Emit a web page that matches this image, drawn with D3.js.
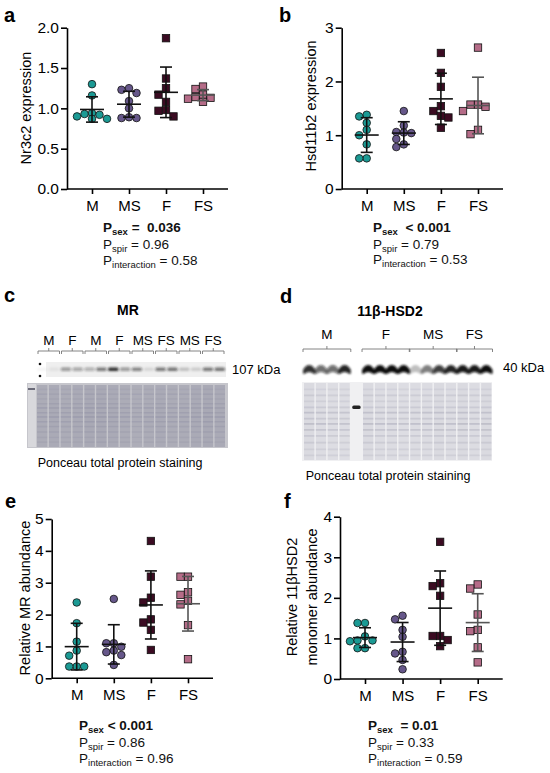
<!DOCTYPE html>
<html>
<head>
<meta charset="utf-8">
<script src="https://cdn.jsdelivr.net/npm/d3@7"></script>
<style>
  body { margin: 0; background: #fff; }
  svg { display: block; font-family: "Liberation Sans", Arial, sans-serif; }
  text { white-space: pre; }
</style>
</head>
<body>
<svg id="fig" width="550" height="773"></svg>
<script>
// ---- data ----
const groups = ["M", "MS", "F", "FS"];
const groupFill = ["#1b9a94", "#66578a", "#3b0b22", "#b56c88"];
const groupShape = ["circle", "circle", "square", "square"];
const barColor = ["#111", "#111", "#111", "#555"];

// values per group, in the order of `groups`
const nr3c2 = [
  [1.30, 1.16, 0.94, 0.93, 0.92, 0.90, 0.87, 0.87],
  [1.25, 1.23, 1.19, 1.09, 1.00, 0.89, 0.88, 0.88],
  [1.87, 1.37, 1.25, 1.17, 1.08, 0.98, 0.97, 0.90],
  [1.27, 1.24, 1.17, 1.14, 1.13, 1.12, 1.08]
];
const hsd11b2 = [
  [1.38, 1.35, 1.23, 1.10, 1.00, 0.83, 0.57, 0.57],
  [1.45, 1.18, 1.06, 1.05, 1.04, 0.93, 0.83, 0.78],
  [2.53, 2.16, 1.90, 1.54, 1.45, 1.36, 1.33, 1.14],
  [2.63, 1.57, 1.57, 1.53, 1.45, 1.10, 1.02]
];
const mrProtein = [
  [2.38, 1.73, 1.15, 0.87, 0.71, 0.37, 0.37, 0.37],
  [2.49, 1.10, 1.10, 0.99, 0.87, 0.82, 0.73, 0.42],
  [4.31, 3.19, 2.53, 2.38, 1.85, 1.75, 1.52, 0.89],
  [3.19, 3.19, 2.70, 2.62, 2.43, 2.32, 1.67, 0.60]
];
const hsd2Protein = [
  [1.38, 1.38, 1.05, 0.95, 0.95, 0.93, 0.76, 0.76],
  [1.56, 1.47, 1.21, 1.04, 0.67, 0.63, 0.47, 0.24],
  [3.38, 2.36, 2.29, 2.05, 1.06, 1.06, 0.96, 0.81],
  [2.33, 2.23, 1.59, 1.21, 1.18, 0.78, 0.41]
];

// two-way ANOVA lines: [subscript, rest]
const statsA = [["sex", " =  0.036"], ["spir", " = 0.96"], ["interaction", " = 0.58"]];
const statsB = [["sex", "  < 0.001"], ["spir", " = 0.79"], ["interaction", " = 0.53"]];
const statsE = [["sex", " < 0.001"], ["spir", " = 0.86"], ["interaction", " = 0.96"]];
const statsF = [["sex", "  = 0.01"], ["spir", " = 0.33"], ["interaction", " = 0.59"]];

// western blots
const laneGroupsMR = ["M", "F", "M", "F", "MS", "FS", "MS", "FS"];
const bandMR = [0.04, 0.06, 0.40, 0.35, 0.30, 0.55, 0.90, 0.40, 0.50, 0.10, 0.55, 0.60, 0.20, 0.15, 0.55, 0.60];
const laneGroupsHSD = [["M", 0, 3], ["F", 5, 8], ["MS", 9, 12], ["FS", 13, 15]];
const bandHSD = [0.85, 0.6, 0.6, 0.9, 0, 1, 1, 1, 1, 0.25, 0.5, 0.8, 0.9, 0.95, 0.95, 1];
const ponceauBands = [0.06, 0.14, 0.22, 0.30, 0.37, 0.45, 0.52, 0.60, 0.68, 0.77, 0.86, 0.94];
const ponceauDark = [0.25, 0.4, 0.3, 0.45, 0.6, 0.5, 0.65, 0.55, 0.45, 0.4, 0.3, 0.3];
const ponceauLoadMR = [0.9, 0.95, 0.9, 0.95, 1, 1, 0.95, 0.9, 0.85, 0.9, 0.95, 0.9, 0.9, 0.95, 1, 0.95];
const ponceauLoadHSD = [0.9, 0.85, 0.8, 0.8, 0, 0.9, 0.85, 0.85, 0.8, 0.85, 0.85, 0.9, 0.85, 0.9, 0.85, 0.9];

const svg = d3.select("#fig");

const defs = svg.append("defs");
defs.append("filter").attr("id", "blur1").attr("x", "-50%").attr("y", "-50%").attr("width", "200%").attr("height", "200%")
  .append("feGaussianBlur").attr("stdDeviation", 0.8);
defs.append("filter").attr("id", "blur2").attr("x", "-20%").attr("y", "-50%").attr("width", "140%").attr("height", "200%")
  .append("feGaussianBlur").attr("stdDeviation", 0.7);

function letter(t, x, y) {
  svg.append("text").attr("x", x).attr("y", y).attr("font-size", 20)
    .attr("font-weight", "bold").text(t);
}

// column scatter: push overlapping points sideways, allow a little overlap
function dodge(vals, y, step, minDist) {
  const placed = [];
  const offs = [0, -1, 1, -2, 2].map(k => k * step);
  vals.slice().sort((a, b) => b - a).forEach(v => {
    const py = y(v);
    let best = null, bestD = -1;
    for (const px of offs) {
      const d = placed.length ? d3.min(placed, p => Math.hypot(p.dx - px, p.py - py)) : Infinity;
      if (d >= minDist) { best = px; break; }
      if (d > bestD) { bestD = d; best = px; }
    }
    placed.push({v, dx: best, py});
  });
  return placed;
}

function scatterPanel(cfg) {
  const g = svg.append("g");
  const x = d3.scalePoint().domain(groups).range([cfg.left + 25, cfg.right - 25]);
  const y = d3.scaleLinear().domain([0, cfg.max]).range([cfg.bottom, cfg.top]);

  const ya = g.append("g").attr("transform", `translate(${cfg.left},0)`)
    .call(d3.axisLeft(y).tickValues(cfg.ticks).tickFormat(cfg.fmt).tickSize(6).tickSizeOuter(0).tickPadding(2));
  const xa = g.append("g").attr("transform", `translate(0,${cfg.bottom})`)
    .call(d3.axisBottom(x).tickSize(5).tickPadding(6));
  xa.select(".domain").remove();
  g.append("line").attr("x1", cfg.left).attr("x2", cfg.right)
    .attr("y1", cfg.bottom).attr("y2", cfg.bottom)
    .attr("stroke", "#000").attr("stroke-width", 1.6);
  [ya, xa].forEach(a => {
    a.selectAll("path,line").attr("stroke", "#000").attr("stroke-width", 1.6);
    a.selectAll("text").attr("fill", "#000")
      .attr("font-family", "Liberation Sans, Arial, sans-serif");
  });
  ya.selectAll("text").attr("font-size", 15.5);
  xa.selectAll("text").attr("font-size", 15);

  // y label (one or two lines)
  cfg.ylab.forEach((t, i) => {
    g.append("text")
      .attr("transform", `translate(${cfg.ylabX[i]},${cfg.ylabY}) rotate(-90)`)
      .attr("text-anchor", "middle").attr("font-size", 14.5).text(t);
  });

  // points
  cfg.data.forEach((vals, gi) => {
    const cx = x(groups[gi]);
    const pts = dodge(vals, y, 7.5, 6.5);
    const sel = g.append("g");
    pts.forEach(p => {
      if (groupShape[gi] === "circle") {
        sel.append("circle").attr("cx", cx + p.dx).attr("cy", y(p.v)).attr("r", 3.8);
      } else {
        sel.append("rect").attr("x", cx + p.dx - 3.7).attr("y", y(p.v) - 3.7)
          .attr("width", 7.4).attr("height", 7.4);
      }
    });
    sel.selectAll("*").attr("fill", groupFill[gi]).attr("stroke", "#111").attr("stroke-width", 0.8);

    // mean +/- SD
    const m = d3.mean(vals), sd = d3.deviation(vals);
    const eb = g.append("g").attr("stroke", barColor[gi]).attr("stroke-width", 1.6);
    eb.append("line").attr("x1", cx).attr("x2", cx).attr("y1", y(m + sd)).attr("y2", y(m - sd));
    eb.append("line").attr("x1", cx - 12).attr("x2", cx + 12).attr("y1", y(m)).attr("y2", y(m));
    [m + sd, m - sd].forEach(v => eb.append("line").attr("x1", cx - 6).attr("x2", cx + 6)
      .attr("y1", y(v)).attr("y2", y(v)));
  });

  // statistics
  cfg.stats.forEach((s, i) => {
    const t = g.append("text").attr("x", cfg.statsX).attr("y", cfg.statsY[i])
      .attr("font-size", 13.5).attr("fill", "#111")
      .attr("font-weight", i === 0 ? "bold" : "normal");
    t.append("tspan").text("P");
    t.append("tspan").attr("font-size", 9.5).attr("dy", 3).text(s[0]);
    t.append("tspan").attr("dy", -3).text(s[1]);
  });
}

scatterPanel({data: nr3c2, left: 67, right: 228, top: 27.7, bottom: 189, max: 2,
  ticks: [0, 0.5, 1, 1.5, 2], fmt: d3.format(".1f"),
  ylab: ["Nr3c2 expression"], ylabX: [30.5], ylabY: 108,
  stats: statsA, statsX: 103, statsY: [231.5, 249, 264.5]});
scatterPanel({data: hsd11b2, left: 341.7, right: 503, top: 27.7, bottom: 189, max: 3,
  ticks: [0, 1, 2, 3], fmt: d3.format("d"),
  ylab: ["Hsd11b2 expression"], ylabX: [315.5], ylabY: 106,
  stats: statsB, statsX: 373, statsY: [231.5, 249, 264]});
scatterPanel({data: mrProtein, left: 51.7, right: 213, top: 519, bottom: 678.3, max: 5,
  ticks: [0, 1, 2, 3, 4, 5], fmt: d3.format("d"),
  ylab: ["Relative MR abundance"], ylabX: [30], ylabY: 598,
  stats: statsE, statsX: 79, statsY: [729.5, 747, 762.5]});
scatterPanel({data: hsd2Protein, left: 340, right: 502.7, top: 516.7, bottom: 679, max: 4,
  ticks: [0, 1, 2, 3, 4], fmt: d3.format("d"),
  ylab: ["Relative 11\u03b2HSD2", "monomer abundance"], ylabX: [297, 317], ylabY: 597,
  stats: statsF, statsX: 368, statsY: [729.5, 747, 763]});

letter("a", 4, 22);
letter("b", 279, 22);
letter("c", 4, 302);
letter("d", 280, 303);
letter("e", 5, 508);
letter("f", 284, 508);

// ---- panel c: MR blot ----
(function () {
  const g = svg.append("g");
  const lane = d3.scaleBand().domain(d3.range(16)).range([37, 225]).paddingInner(0.12);
  const pairW = (225 - 37) / 8;
  g.append("text").attr("x", 128).attr("y", 315).attr("text-anchor", "middle")
    .attr("font-size", 14).attr("font-weight", "bold").text("MR");

  laneGroupsMR.forEach((t, i) => {
    const x0 = 37 + i * pairW + 1, x1 = 37 + (i + 1) * pairW - 1, cx = (x0 + x1) / 2;
    g.append("text").attr("x", cx).attr("y", 345).attr("text-anchor", "middle")
      .attr("font-size", 13.5).text(t);
    g.append("path").attr("d", `M${x0},354V351H${x1}V354M${cx},351V348`)
      .attr("fill", "none").attr("stroke", "#777").attr("stroke-width", 0.9);
  });

  g.append("rect").attr("x", 46).attr("y", 362).attr("width", 180).attr("height", 15).attr("fill", "#efefef");
  [364, 376].forEach(cy => g.append("circle").attr("cx", 40).attr("cy", cy).attr("r", 1.3).attr("fill", "#111"));
  g.append("g").attr("filter", "url(#blur1)").selectAll("rect").data(bandMR).join("rect")
    .attr("x", (d, i) => lane(i)).attr("y", 367.5).attr("width", lane.bandwidth()).attr("height", 3.5)
    .attr("rx", 1.5).attr("fill", "#1a1a1a").attr("opacity", d => d);
  g.append("text").attr("x", 232).attr("y", 374).attr("font-size", 13).text("107 kDa");

  // Ponceau
  g.append("rect").attr("x", 27).attr("y", 383).attr("width", 201).attr("height", 65).attr("fill", "#c6c6cc");
  g.append("rect").attr("x", 28).attr("y", 384).attr("width", 8).attr("height", 63).attr("fill", "#d8d8dc");
  g.append("rect").attr("x", 28).attr("y", 388).attr("width", 7).attr("height", 2).attr("fill", "#6a6a78");
  const lanes = g.append("g").attr("filter", "url(#blur2)");
  ponceauLoadMR.forEach((ld, i) => {
    lanes.append("rect").attr("x", lane(i)).attr("y", 385).attr("width", lane.bandwidth()).attr("height", 62)
      .attr("fill", "#a9a9b5").attr("opacity", ld);
    ponceauBands.forEach((b, j) => {
      lanes.append("rect").attr("x", lane(i)).attr("y", 385 + b * 60).attr("width", lane.bandwidth())
        .attr("height", 1.5).attr("fill", "#80809a").attr("opacity", ponceauDark[j] * ld * 0.55);
    });
  });
  g.append("text").attr("x", 120).attr("y", 467).attr("text-anchor", "middle")
    .attr("font-size", 12.5).text("Ponceau total protein staining");
})();

// ---- panel d: 11b-HSD2 blot ----
(function () {
  const g = svg.append("g");
  const lane = d3.scaleBand().domain(d3.range(16)).range([304, 491.5]).paddingInner(0.12);
  g.append("text").attr("x", 390).attr("y", 316).attr("text-anchor", "middle")
    .attr("font-size", 14).attr("font-weight", "bold").text("11\u03b2-HSD2");

  laneGroupsHSD.forEach(([t, a, b]) => {
    const x0 = lane(a) - 1, x1 = lane(b) + lane.bandwidth() + 1, cx = (x0 + x1) / 2;
    g.append("text").attr("x", cx).attr("y", 339).attr("text-anchor", "middle")
      .attr("font-size", 13.5).text(t);
    g.append("path").attr("d", `M${x0},352V349H${x1}V352M${cx},349V346`)
      .attr("fill", "none").attr("stroke", "#777").attr("stroke-width", 0.9);
  });

  g.append("g").attr("filter", "url(#blur1)").selectAll("path").data(bandHSD).join("path")
    .attr("d", (d, i) => {
      const x0 = lane(i), w = lane.bandwidth(), cx = x0 + w / 2;
      return `M${x0},370Q${cx},362 ${x0 + w},370L${x0 + w},373Q${cx},369 ${x0},373Z`;
    })
    .attr("fill", "#0d0d0d").attr("stroke", "#0d0d0d").attr("stroke-width", 2)
    .attr("stroke-linejoin", "round").attr("opacity", d => d);
  g.append("text").attr("x", 503).attr("y", 372).attr("font-size", 13).text("40 kDa");

  // Ponceau
  g.append("rect").attr("x", 302).attr("y", 382).attr("width", 190).attr("height", 79).attr("fill", "#f0f0f2");
  const lanes = g.append("g").attr("filter", "url(#blur2)");
  ponceauLoadHSD.forEach((ld, i) => {
    if (ld === 0) return;
    lanes.append("rect").attr("x", lane(i)).attr("y", 383).attr("width", lane.bandwidth()).attr("height", 77)
      .attr("fill", "#d8d8df").attr("opacity", ld);
    ponceauBands.forEach((b, j) => {
      lanes.append("rect").attr("x", lane(i)).attr("y", 384 + b * 75).attr("width", lane.bandwidth())
        .attr("height", 1.8).attr("fill", "#9494a6").attr("opacity", ponceauDark[j] * ld * 0.65);
    });
  });
  // ladder lane
  g.append("rect").attr("x", lane(4) + 1).attr("y", 405.5).attr("width", lane.bandwidth() - 2).attr("height", 3.5)
    .attr("rx", 1.5).attr("fill", "#222").attr("filter", "url(#blur2)");
  g.append("text").attr("x", 388).attr("y", 480).attr("text-anchor", "middle")
    .attr("font-size", 12.5).text("Ponceau total protein staining");
})();
</script>
</body>
</html>
